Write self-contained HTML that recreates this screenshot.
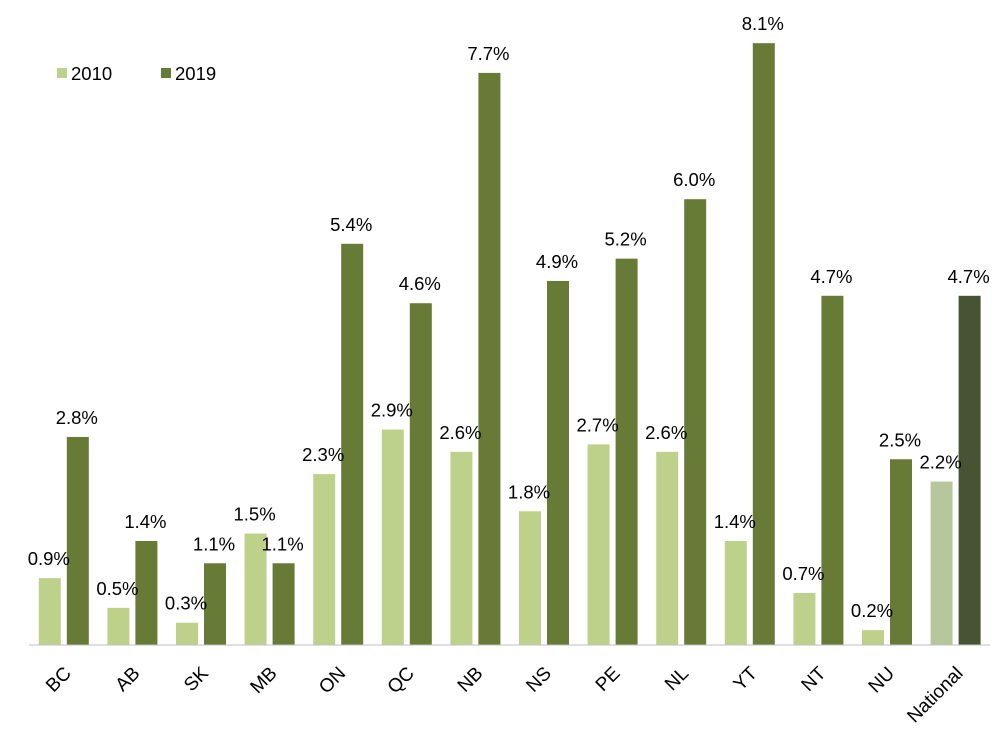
<!DOCTYPE html>
<html><head><meta charset="utf-8"><style>
body{margin:0;background:#fff;}
svg{display:block;font-family:"Liberation Sans",Arial,sans-serif;}
</style></head><body>
<svg id="chart" width="1003" height="729">
  <g id="legend">
    <g>
      <rect x="57" y="68" width="10" height="10" fill="#bdd18b"/>
      <text x="71" y="80" font-size="18.5" fill="#000">2010</text>
    </g>
    <g>
      <rect x="161" y="68" width="10" height="10" fill="#677a36"/>
      <text x="175" y="80" font-size="18.5" fill="#000">2019</text>
    </g>
  </g>
  <g id="bars"></g>
  <line x1="29" y1="645" x2="990" y2="645" stroke="#bfbfbf" stroke-width="1"/>
  <g id="labels"></g>
</svg>
<script>
const categories = ["BC","AB","SK","MB","ON","QC","NB","NS","PE","NL","YT","NT","NU","National"];
const values2010 = [0.9,0.5,0.3,1.5,2.3,2.9,2.6,1.8,2.7,2.6,1.4,0.7,0.2,2.2];
const values2019 = [2.8,1.4,1.1,1.1,5.4,4.6,7.7,4.9,5.2,6.0,8.1,4.7,2.5,4.7];
const labels2010 = ["0.9%","0.5%","0.3%","1.5%","2.3%","2.9%","2.6%","1.8%","2.7%","2.6%","1.4%","0.7%","0.2%","2.2%"];
const labels2019 = ["2.8%","1.4%","1.1%","1.1%","5.4%","4.6%","7.7%","4.9%","5.2%","6.0%","8.1%","4.7%","2.5%","4.7%"];

const NS="http://www.w3.org/2000/svg";
const x0=29.5, groupW=68.6, base=645, perUnit=74.3, barW=22, gap=6;
function yScale(v){return base - v*perUnit;}
function groupX(i){return x0 + i*groupW + (groupW-(2*barW+gap))/2;}
const bars=document.getElementById('bars');
const labs=document.getElementById('labels');
function mk(tag,attrs,parent){const e=document.createElementNS(NS,tag);for(const k in attrs)e.setAttribute(k,attrs[k]);parent.appendChild(e);return e;}
categories.forEach((c,i)=>{
  const nat = c==="National";
  const gx=groupX(i);
  const g=mk('g',{},bars);
  
  
  const series=[[values2010[i],labels2010[i],nat?"#b8c79b":"#bdd18b",gx,'2010'],[values2019[i],labels2019[i],nat?"#465434":"#677a36",gx+barW+gap,'2019']];
  series.forEach(s=>{
    const y=yScale(s[0]);
    const r=mk('rect',{x:s[3],y:y,width:barW,height:base-y,fill:s[2]},g);
    
    
    const t=mk('text',{x:s[3]+barW/2-1,y:y-13,'font-size':18.5,'text-anchor':'middle',fill:'#000'},labs);
    t.textContent=s[1];
    
    
  });
  const cx=gx+barW+gap/2-1, cy=base+20;
  const t=mk('text',{x:cx,y:cy,'font-size':19,'text-anchor':'end',fill:'#000',transform:`rotate(-45 ${cx} ${cy})`,dy:'0.7em'},labs);
  t.textContent=c;
  
  
});
</script>
</body></html>
